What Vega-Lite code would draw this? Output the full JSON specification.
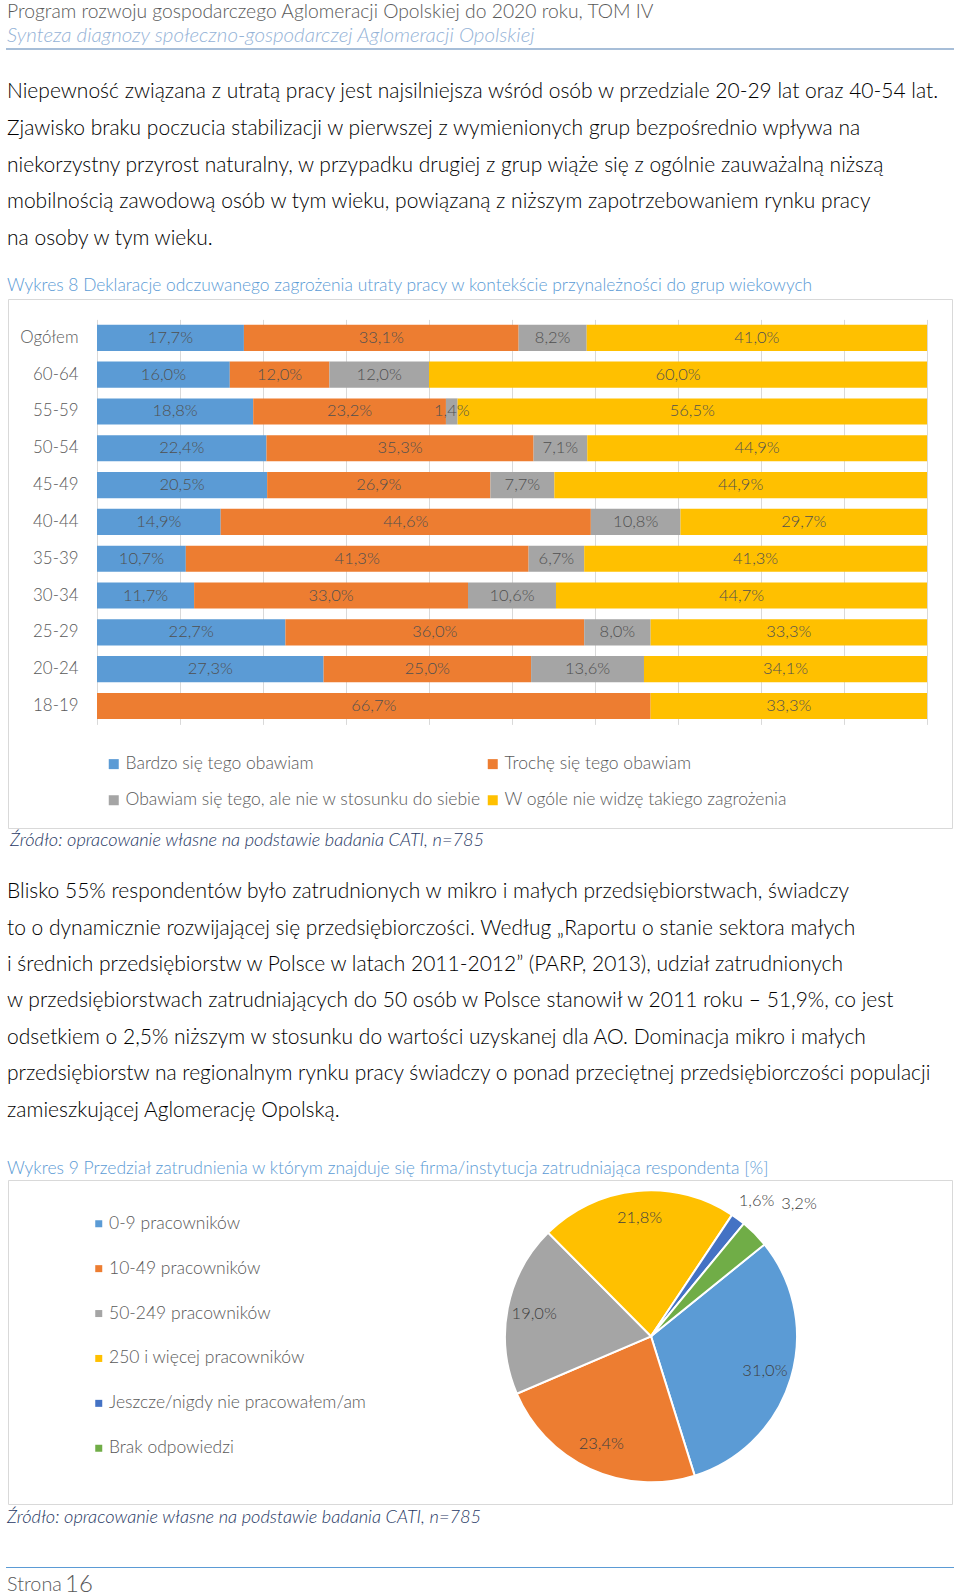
{
  "$schema": "https://vega.github.io/schema/vega-lite/v6.json",
  "padding": 0,
  "background": "white",
  "spacing": 0,
  "bounds": "flush",
  "center": true,
  "resolve": {"scale": {"color": "independent"}, "legend": {"color": "independent"}},
  "config": {
    "view": {"stroke": null},
    "font": "Lato",
    "text": {"font": "Lato", "fontWeight": 300},
    "axis": {"labelFont": "Lato", "labelFontWeight": 300},
    "legend": {"labelFont": "Lato", "labelFontWeight": 300}
  },
  "vconcat": [
    {
      "width": 946, "height": 48,
      "data": {"values": [
        {"i": 0, "t": "Program rozwoju gospodarczego Aglomeracji Opolskiej do 2020 roku, TOM IV"},
        {"i": 1, "t": "Synteza diagnozy społeczno-gospodarczej Aglomeracji Opolskiej"}
      ]},
      "encoding": {
        "x": {"value": 0},
        "y": {"field": "i", "type": "ordinal", "axis": null, "scale": {"paddingInner": 0, "paddingOuter": 0}},
        "text": {"field": "t"}
      },
      "layer": [
        {"transform": [{"filter": "datum.i == 0"}], "mark": {"type": "text", "align": "left", "baseline": "middle", "fontSize": 19.3, "color": "#595959"}},
        {"transform": [{"filter": "datum.i == 1"}], "mark": {"type": "text", "align": "left", "baseline": "middle", "fontSize": 20.5, "fontStyle": "italic", "color": "#95b3d7"}}
      ]
    },
    {"width": 948, "height": 2, "view": {"fill": "#a7bed8", "stroke": null}, "data": {"values": []}, "mark": "text", "encoding": {}},
    {"width": 960, "height": 23.2, "data": {"values": []}, "mark": "text", "encoding": {}},
    {
      "width": 946, "height": 183,
      "data": {"values": [
        {"i": 1, "t": "Niepewność związana z utratą pracy jest najsilniejsza wśród osób w przedziale 20-29 lat oraz 40-54 lat."},
        {"i": 2, "t": "Zjawisko braku poczucia stabilizacji w pierwszej z wymienionych grup bezpośrednio wpływa na"},
        {"i": 3, "t": "niekorzystny przyrost naturalny, w przypadku drugiej z grup wiąże się z ogólnie zauważalną niższą"},
        {"i": 4, "t": "mobilnością zawodową osób w tym wieku, powiązaną z niższym zapotrzebowaniem rynku pracy"},
        {"i": 5, "t": "na osoby w tym wieku."}
      ]},
      "mark": {"type": "text", "align": "left", "baseline": "middle", "fontSize": 21, "color": "#000000"},
      "encoding": {
        "x": {"value": 0},
        "y": {"field": "i", "type": "ordinal", "axis": null, "scale": {"paddingInner": 0, "paddingOuter": 0}},
        "text": {"field": "t"}
      }
    },
    {"width": 10, "height": 15.4, "data": {"values": []}, "mark": "text", "encoding": {}},
    {
      "width": 946, "height": 26,
      "data": {"values": [{"t": "Wykres 8 Deklaracje odczuwanego zagrożenia utraty pracy w kontekście przynależności do grup wiekowych"}]},
      "mark": {"type": "text", "align": "left", "baseline": "middle", "fontSize": 17.4, "color": "#5b9bd5"},
      "encoding": {"x": {"value": 0}, "text": {"field": "t"}}
    },
    {
      "width": 944, "height": 529,
      "view": {"stroke": "#d9d9d9", "strokeWidth": 1},
      "data": {"values": [
        {"a": "Ogółem", "c": "Bardzo się tego obawiam", "v": 17.7},
        {"a": "Ogółem", "c": "Trochę się tego obawiam", "v": 33.1},
        {"a": "Ogółem", "c": "Obawiam się tego, ale nie w stosunku do siebie", "v": 8.2},
        {"a": "Ogółem", "c": "W ogóle nie widzę takiego zagrożenia", "v": 41.0},
        {"a": "60-64", "c": "Bardzo się tego obawiam", "v": 16.0},
        {"a": "60-64", "c": "Trochę się tego obawiam", "v": 12.0},
        {"a": "60-64", "c": "Obawiam się tego, ale nie w stosunku do siebie", "v": 12.0},
        {"a": "60-64", "c": "W ogóle nie widzę takiego zagrożenia", "v": 60.0},
        {"a": "55-59", "c": "Bardzo się tego obawiam", "v": 18.8},
        {"a": "55-59", "c": "Trochę się tego obawiam", "v": 23.2},
        {"a": "55-59", "c": "Obawiam się tego, ale nie w stosunku do siebie", "v": 1.4},
        {"a": "55-59", "c": "W ogóle nie widzę takiego zagrożenia", "v": 56.5},
        {"a": "50-54", "c": "Bardzo się tego obawiam", "v": 22.4},
        {"a": "50-54", "c": "Trochę się tego obawiam", "v": 35.3},
        {"a": "50-54", "c": "Obawiam się tego, ale nie w stosunku do siebie", "v": 7.1},
        {"a": "50-54", "c": "W ogóle nie widzę takiego zagrożenia", "v": 44.9},
        {"a": "45-49", "c": "Bardzo się tego obawiam", "v": 20.5},
        {"a": "45-49", "c": "Trochę się tego obawiam", "v": 26.9},
        {"a": "45-49", "c": "Obawiam się tego, ale nie w stosunku do siebie", "v": 7.7},
        {"a": "45-49", "c": "W ogóle nie widzę takiego zagrożenia", "v": 44.9},
        {"a": "40-44", "c": "Bardzo się tego obawiam", "v": 14.9},
        {"a": "40-44", "c": "Trochę się tego obawiam", "v": 44.6},
        {"a": "40-44", "c": "Obawiam się tego, ale nie w stosunku do siebie", "v": 10.8},
        {"a": "40-44", "c": "W ogóle nie widzę takiego zagrożenia", "v": 29.7},
        {"a": "35-39", "c": "Bardzo się tego obawiam", "v": 10.7},
        {"a": "35-39", "c": "Trochę się tego obawiam", "v": 41.3},
        {"a": "35-39", "c": "Obawiam się tego, ale nie w stosunku do siebie", "v": 6.7},
        {"a": "35-39", "c": "W ogóle nie widzę takiego zagrożenia", "v": 41.3},
        {"a": "30-34", "c": "Bardzo się tego obawiam", "v": 11.7},
        {"a": "30-34", "c": "Trochę się tego obawiam", "v": 33.0},
        {"a": "30-34", "c": "Obawiam się tego, ale nie w stosunku do siebie", "v": 10.6},
        {"a": "30-34", "c": "W ogóle nie widzę takiego zagrożenia", "v": 44.7},
        {"a": "25-29", "c": "Bardzo się tego obawiam", "v": 22.7},
        {"a": "25-29", "c": "Trochę się tego obawiam", "v": 36.0},
        {"a": "25-29", "c": "Obawiam się tego, ale nie w stosunku do siebie", "v": 8.0},
        {"a": "25-29", "c": "W ogóle nie widzę takiego zagrożenia", "v": 33.3},
        {"a": "20-24", "c": "Bardzo się tego obawiam", "v": 27.3},
        {"a": "20-24", "c": "Trochę się tego obawiam", "v": 25.0},
        {"a": "20-24", "c": "Obawiam się tego, ale nie w stosunku do siebie", "v": 13.6},
        {"a": "20-24", "c": "W ogóle nie widzę takiego zagrożenia", "v": 34.1},
        {"a": "18-19", "c": "Trochę się tego obawiam", "v": 66.7},
        {"a": "18-19", "c": "W ogóle nie widzę takiego zagrożenia", "v": 33.3}
      ]},
      "transform": [
        {"calculate": "indexof(['Bardzo się tego obawiam','Trochę się tego obawiam','Obawiam się tego, ale nie w stosunku do siebie','W ogóle nie widzę takiego zagrożenia'], datum.c)", "as": "o"},
        {"stack": "v", "groupby": ["a"], "sort": [{"field": "o", "order": "ascending"}], "offset": "normalize", "as": ["x0", "x1"]},
        {"calculate": "(datum.x0 + datum.x1) / 2", "as": "xm"},
        {"calculate": "replace(format(datum.v, '.1f'), '.', ',') + '%'", "as": "lbl"}
      ],
      "encoding": {
        "y": {
          "field": "a", "type": "nominal",
          "sort": ["Ogółem", "60-64", "55-59", "50-54", "45-49", "40-44", "35-39", "30-34", "25-29", "20-24", "18-19"],
          "scale": {"range": [20.4, 425.4], "paddingInner": 0.29, "paddingOuter": 0.145},
          "axis": {"title": null, "domain": false, "ticks": false, "offset": -72, "labelPadding": 2, "labelFontSize": 16.9, "labelColor": "#595959"}
        }
      },
      "layer": [
        {
          "mark": {"type": "bar"},
          "encoding": {
            "x": {
              "field": "x0", "type": "quantitative",
              "scale": {"domain": [0, 1], "range": [89, 919], "nice": false},
              "axis": {"orient": "top", "values": [0, 0.1, 0.2, 0.3, 0.4, 0.5, 0.6, 0.7, 0.8, 0.9, 1], "grid": true, "gridColor": "#d9d9d9", "gridWidth": 1, "labels": false, "ticks": false, "domain": false, "title": null}
            },
            "x2": {"field": "x1"},
            "color": {
              "field": "c", "type": "nominal",
              "scale": {
                "domain": ["Bardzo się tego obawiam", "Trochę się tego obawiam", "Obawiam się tego, ale nie w stosunku do siebie", "W ogóle nie widzę takiego zagrożenia"],
                "range": ["#5b9bd5", "#ed7d31", "#a5a5a5", "#ffc000"]
              },
              "legend": {
                "orient": "none", "legendX": 97, "legendY": 456, "columns": 2, "direction": "horizontal", "title": null,
                "symbolType": "square", "symbolSize": 100, "symbolStrokeWidth": 0,
                "labelFontSize": 17.5, "labelColor": "#595959", "labelLimit": 600,
                "rowPadding": 17.5, "columnPadding": 3, "labelOffset": 3
              }
            }
          }
        },
        {
          "mark": {"type": "text", "align": "center", "baseline": "middle", "fontSize": 16.5, "color": "#505050"},
          "encoding": {
            "x": {"field": "xm", "type": "quantitative"},
            "text": {"field": "lbl"}
          }
        }
      ]
    },
    {"width": 10, "height": 1, "data": {"values": []}, "mark": "text", "encoding": {}},
    {
      "width": 946, "height": 24,
      "data": {"values": [{"t": "Źródło: opracowanie własne na podstawie badania CATI, n=785"}]},
      "mark": {"type": "text", "align": "left", "baseline": "middle", "dx": 3, "fontSize": 18.2, "fontStyle": "italic", "color": "#1f3864"},
      "encoding": {"x": {"value": 0}, "text": {"field": "t"}}
    },
    {"width": 10, "height": 20.2, "data": {"values": []}, "mark": "text", "encoding": {}},
    {
      "width": 946, "height": 254.8,
      "data": {"values": [
        {"i": 1, "t": "Blisko 55% respondentów było zatrudnionych w mikro i małych przedsiębiorstwach, świadczy"},
        {"i": 2, "t": "to o dynamicznie rozwijającej się przedsiębiorczości. Według „Raportu o stanie sektora małych"},
        {"i": 3, "t": "i średnich przedsiębiorstw w Polsce w latach 2011-2012” (PARP, 2013), udział zatrudnionych"},
        {"i": 4, "t": "w przedsiębiorstwach zatrudniających do 50 osób w Polsce stanowił w 2011 roku – 51,9%, co jest"},
        {"i": 5, "t": "odsetkiem o 2,5% niższym w stosunku do wartości uzyskanej dla AO. Dominacja mikro i małych"},
        {"i": 6, "t": "przedsiębiorstw na regionalnym rynku pracy świadczy o ponad przeciętnej przedsiębiorczości populacji"},
        {"i": 7, "t": "zamieszkującej Aglomerację Opolską."}
      ]},
      "mark": {"type": "text", "align": "left", "baseline": "middle", "fontSize": 21, "color": "#000000"},
      "encoding": {
        "x": {"value": 0},
        "y": {"field": "i", "type": "ordinal", "axis": null, "scale": {"paddingInner": 0, "paddingOuter": 0}},
        "text": {"field": "t"}
      }
    },
    {"width": 10, "height": 27.6, "data": {"values": []}, "mark": "text", "encoding": {}},
    {
      "width": 946, "height": 23,
      "data": {"values": [{"t": "Wykres 9 Przedział zatrudnienia w którym znajduje się firma/instytucja zatrudniająca respondenta [%]"}]},
      "mark": {"type": "text", "align": "left", "baseline": "middle", "fontSize": 17.5, "color": "#5b9bd5"},
      "encoding": {"x": {"value": 0}, "text": {"field": "t"}}
    },
    {
      "width": 944, "height": 324,
      "view": {"stroke": "#d9d9d9", "strokeWidth": 1},
      "data": {"values": [
        {"c": "0-9 pracowników", "v": 31.0},
        {"c": "10-49 pracowników", "v": 23.4},
        {"c": "50-249 pracowników", "v": 19.0},
        {"c": "250 i więcej pracowników", "v": 21.8},
        {"c": "Jeszcze/nigdy nie pracowałem/am", "v": 1.6},
        {"c": "Brak odpowiedzi", "v": 3.2}
      ]},
      "transform": [
        {"calculate": "indexof(['0-9 pracowników','10-49 pracowników','50-249 pracowników','250 i więcej pracowników','Jeszcze/nigdy nie pracowałem/am','Brak odpowiedzi'], datum.c)", "as": "o"},
        {"calculate": "replace(format(datum.v, '.1f'), '.', ',') + '%'", "as": "lbl"}
      ],
      "encoding": {
        "theta": {"field": "v", "type": "quantitative", "stack": true, "scale": {"range": [0.89, 7.1732]}},
        "order": {"field": "o", "type": "quantitative"}
      },
      "layer": [
        {
          "mark": {"type": "arc", "outerRadius": 146, "x": 643, "y": 156.3, "stroke": "white", "strokeWidth": 2},
          "encoding": {
            "color": {
              "field": "c", "type": "nominal",
              "scale": {
                "domain": ["0-9 pracowników", "10-49 pracowników", "50-249 pracowników", "250 i więcej pracowników", "Jeszcze/nigdy nie pracowałem/am", "Brak odpowiedzi"],
                "range": ["#5b9bd5", "#ed7d31", "#a5a5a5", "#ffc000", "#4472c4", "#70ad47"]
              },
              "legend": {
                "orient": "none", "legendX": 82, "legendY": 35, "title": null,
                "symbolType": "square", "symbolSize": 49, "symbolStrokeWidth": 0,
                "labelFontSize": 17.5, "labelColor": "#595959", "labelLimit": 500,
                "rowPadding": 25.9, "labelOffset": 1.5
              }
            }
          }
        },
        {
          "mark": {"type": "text", "radius": 119, "x": 643, "y": 156.3, "fontSize": 16.5, "color": "#404040", "align": "center", "baseline": "middle"},
          "encoding": {"text": {"condition": {"test": "datum.v >= 5", "field": "lbl"}, "value": ""}}
        },
        {
          "mark": {"type": "text", "radius": 172, "x": 643, "y": 156.3, "dx": 3, "dy": 3, "fontSize": 16.5, "color": "#404040", "align": "center", "baseline": "middle"},
          "encoding": {"text": {"condition": {"test": "datum.o == 4", "field": "lbl"}, "value": ""}}
        },
        {
          "mark": {"type": "text", "radius": 200, "x": 643, "y": 156.3, "dx": 6, "dy": 9, "fontSize": 16.5, "color": "#404040", "align": "center", "baseline": "middle"},
          "encoding": {"text": {"condition": {"test": "datum.o == 5", "field": "lbl"}, "value": ""}}
        }
      ]
    },
    {"width": 10, "height": 2, "data": {"values": []}, "mark": "text", "encoding": {}},
    {
      "width": 946, "height": 24,
      "data": {"values": [{"t": "Źródło: opracowanie własne na podstawie badania CATI, n=785"}]},
      "mark": {"type": "text", "align": "left", "baseline": "middle", "fontSize": 18.2, "fontStyle": "italic", "color": "#1f3864"},
      "encoding": {"x": {"value": 0}, "text": {"field": "t"}}
    },
    {"width": 10, "height": 37, "data": {"values": []}, "mark": "text", "encoding": {}},
    {"width": 948, "height": 1, "view": {"fill": "#5b9bd5", "stroke": null}, "data": {"values": []}, "mark": "text", "encoding": {}},
    {"width": 10, "height": 4, "data": {"values": []}, "mark": "text", "encoding": {}},
    {
      "width": 946, "height": 25.8,
      "data": {"values": [{"a": "Strona", "b": "16"}]},
      "encoding": {"x": {"value": 0}},
      "layer": [
        {"mark": {"type": "text", "align": "left", "baseline": "middle", "fontSize": 19.8, "color": "#595959"}, "encoding": {"text": {"field": "a"}}},
        {"mark": {"type": "text", "align": "left", "baseline": "middle", "dx": 58, "fontSize": 24, "color": "#595959"}, "encoding": {"text": {"field": "b"}}}
      ]
    }
  ]
}
